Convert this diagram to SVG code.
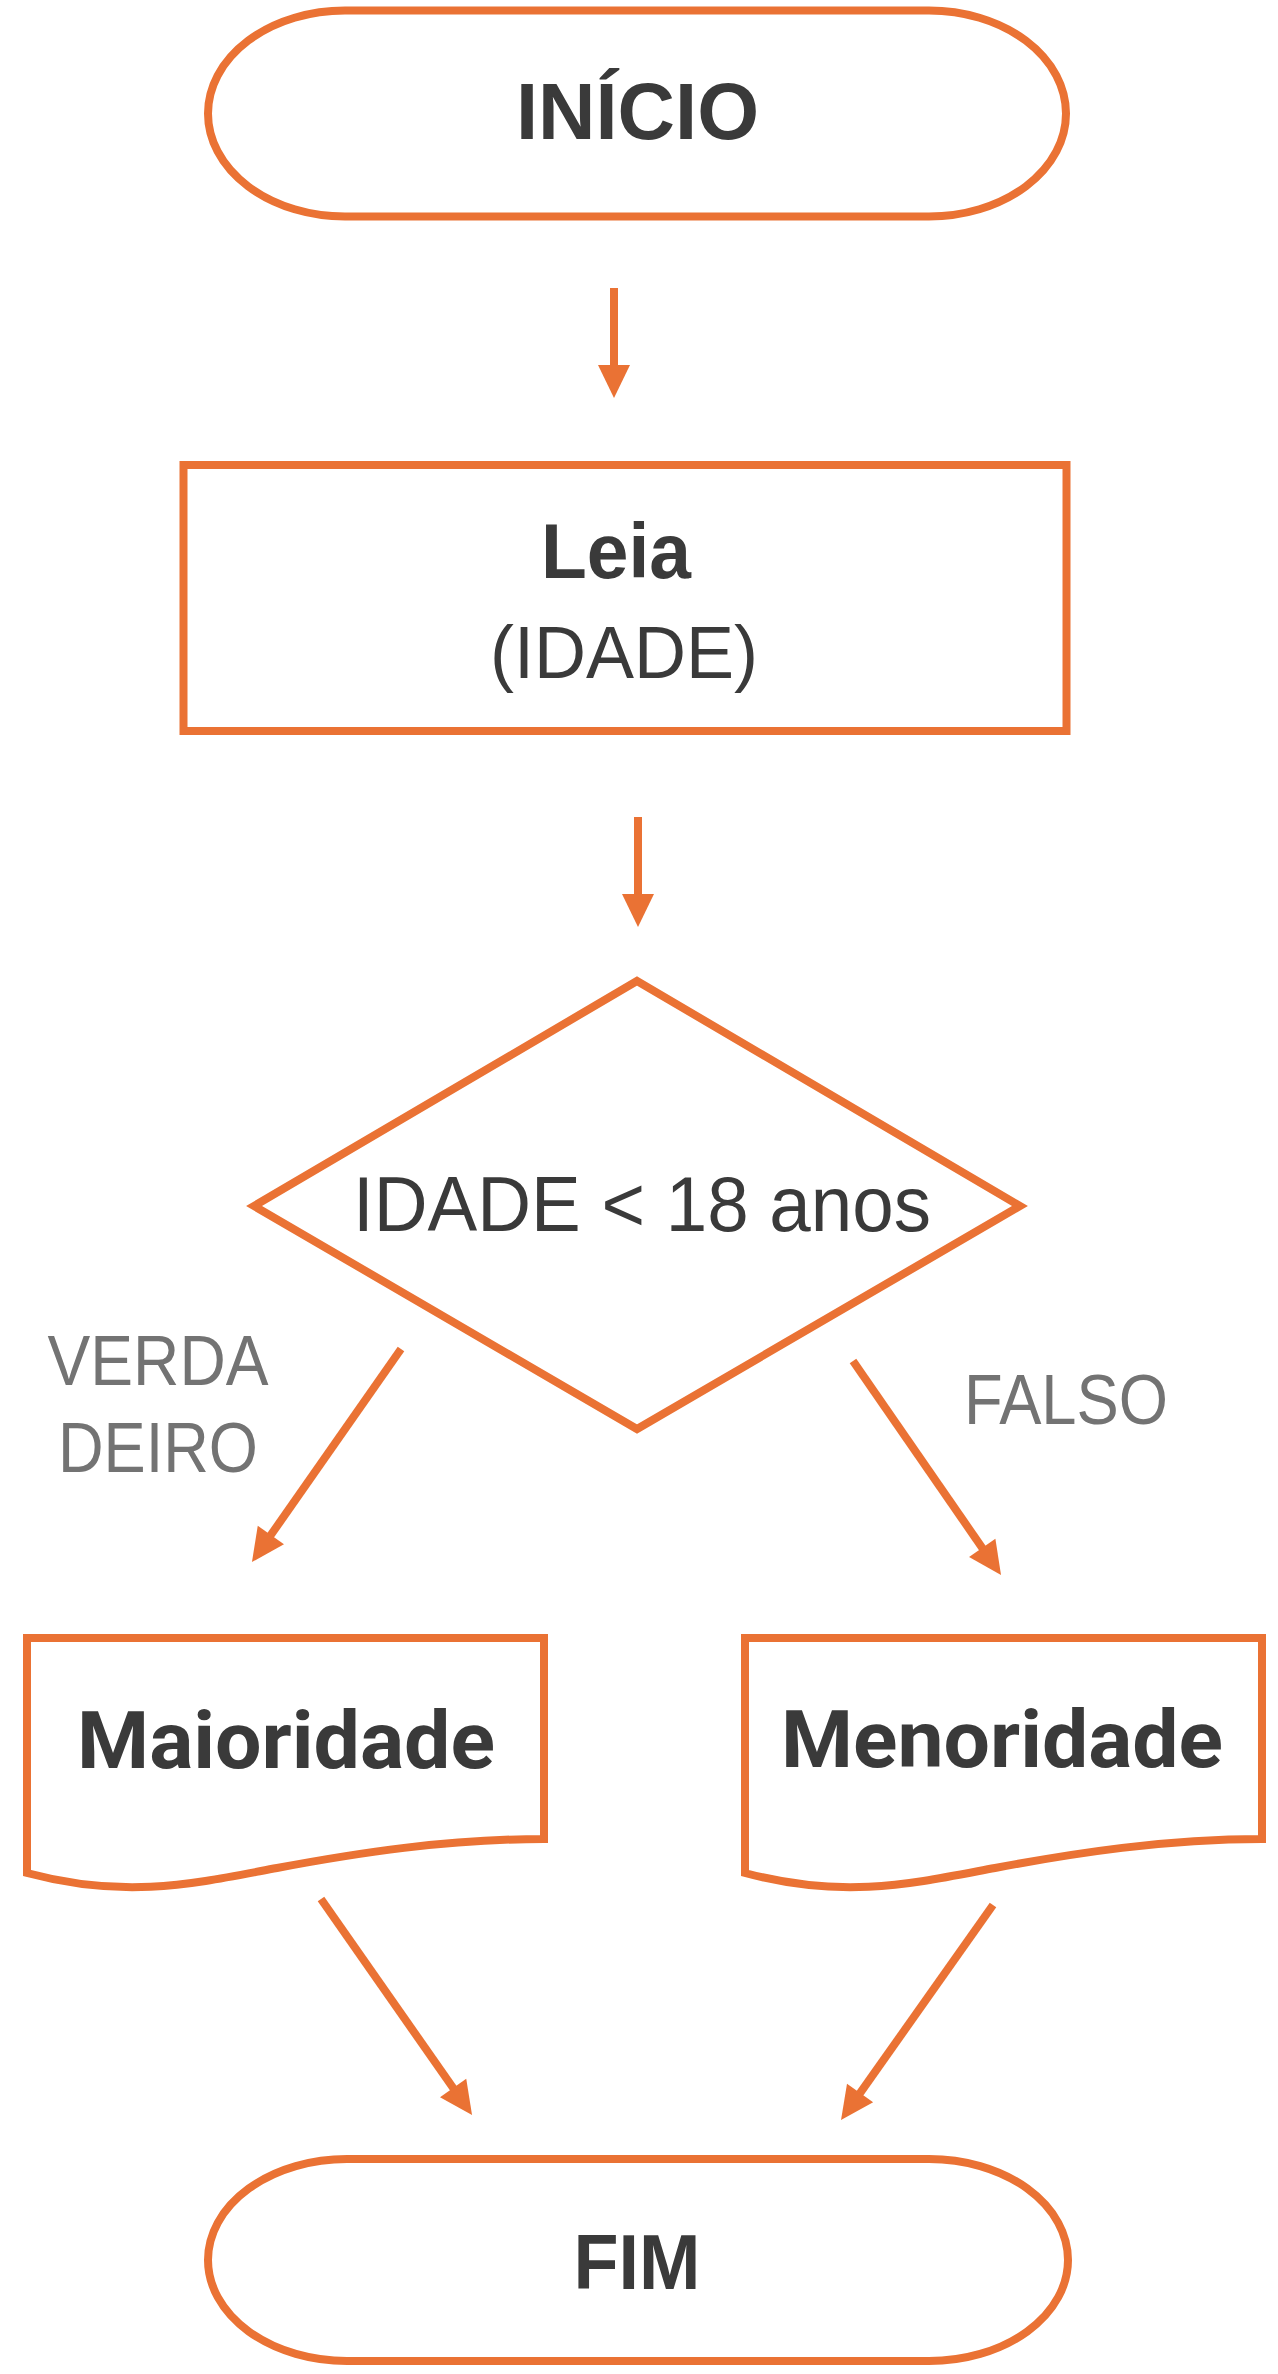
<svg xmlns="http://www.w3.org/2000/svg" width="1278" height="2374" viewBox="0 0 1278 2374">
<style>
.shape{fill:#FFFFFF;stroke:#EA7234;stroke-width:8;stroke-linejoin:miter}
.conn{stroke:#EA7234;stroke-width:8;fill:none}
.t{font-family:"Liberation Sans",Arial,sans-serif;fill:#3A3A3A;text-anchor:middle}
.b{font-weight:bold}
.doc{font-family:Roboto,"Liberation Sans",sans-serif;font-weight:bold;fill:#3A3A3A;text-anchor:middle}
.lbl{font-family:"Liberation Sans",Arial,sans-serif;fill:#737373;text-anchor:middle}
</style>
<defs>
<marker id="ah" markerUnits="userSpaceOnUse" markerWidth="36" markerHeight="36" viewBox="-2 -18 36 36" refX="0" refY="0" orient="auto">
<path d="M-1,-16 L32,0 L-1,16 Z" fill="#EA7234"/>
</marker>
</defs>
<rect width="1278" height="2374" fill="#FFFFFF"/>

<g id="connectors">
<line class="conn" x1="614" y1="288" x2="614" y2="366" marker-end="url(#ah)"/>
<line class="conn" x1="638" y1="817" x2="638" y2="895" marker-end="url(#ah)"/>
<line class="conn" x1="401" y1="1349" x2="270.3" y2="1535.8" marker-end="url(#ah)"/>
<line class="conn" x1="853" y1="1361" x2="982.8" y2="1548.7" marker-end="url(#ah)"/>
<line class="conn" x1="321" y1="1899" x2="453.7" y2="2088.8" marker-end="url(#ah)"/>
<line class="conn" x1="993" y1="1905" x2="859.5" y2="2093.9" marker-end="url(#ah)"/>
</g>

<g id="inicio">
<path class="shape" d="M345,10.5 H929 A137,103 0 0 1 929,216.5 H345 A137,103 0 0 1 345,10.5 Z"/>
<text class="t b" x="637.5" y="139" font-size="80" textLength="243" lengthAdjust="spacingAndGlyphs">INÍCIO</text>
</g>

<g id="leia">
<rect class="shape" x="183.5" y="465" width="883" height="266"/>
<text class="t b" x="616" y="578" font-size="77" textLength="150" lengthAdjust="spacingAndGlyphs">Leia</text>
<text class="t" x="624" y="678" font-size="75" textLength="268" lengthAdjust="spacingAndGlyphs">(IDADE)</text>
</g>

<g id="decisao">
<polygon class="shape" stroke-width="7" points="637,981 1020,1206 637,1429 254,1206"/>
<text class="t" x="642" y="1231" font-size="77" textLength="578" lengthAdjust="spacingAndGlyphs">IDADE &lt; 18 anos</text>
</g>

<g id="rotulo-verdadeiro">
<text class="lbl" x="158" y="1385" font-size="70" textLength="221" lengthAdjust="spacingAndGlyphs">VERDA</text>
<text class="lbl" x="158" y="1472" font-size="70" textLength="200" lengthAdjust="spacingAndGlyphs">DEIRO</text>
</g>

<g id="rotulo-falso">
<text class="lbl" x="1066" y="1424" font-size="70" textLength="204" lengthAdjust="spacingAndGlyphs">FALSO</text>
</g>

<g id="maioridade">
<path class="shape" transform="translate(27,1638)" d="M0,0 H517 V201 C420,201 330,215 250,230 C170,245 100,262 0,235 Z"/>
<text class="doc" x="286" y="1768" font-size="80" textLength="418" lengthAdjust="spacingAndGlyphs">Maioridade</text>
</g>

<g id="menoridade">
<path class="shape" transform="translate(745,1638)" d="M0,0 H517 V201 C420,201 330,215 250,230 C170,245 100,262 0,235 Z"/>
<text class="doc" x="1002" y="1767" font-size="80" textLength="442" lengthAdjust="spacingAndGlyphs">Menoridade</text>
</g>

<g id="fim">
<path class="shape" stroke-width="7" d="M347,2159 H929 A139,101 0 0 1 929,2361 H347 A139,101 0 0 1 347,2159 Z"/>
<text class="t b" x="637" y="2289" font-size="78" textLength="127" lengthAdjust="spacingAndGlyphs">FIM</text>
</g>
</svg>
